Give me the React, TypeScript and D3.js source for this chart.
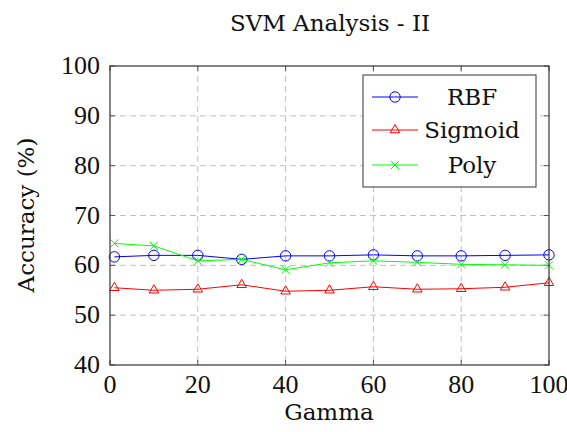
import React from "react";
import * as d3 from "d3";

const gammas = [1, 10, 20, 30, 40, 50, 60, 70, 80, 90, 100];
const rbf = [61.7, 62.0, 62.0, 61.2, 61.9, 61.9, 62.1, 61.9, 61.9, 62.0, 62.1];
const sigmoid = [55.5, 55.0, 55.2, 56.1, 54.8, 55.0, 55.7, 55.2, 55.3, 55.6, 56.5];
const poly = [64.4, 63.9, 60.9, 61.2, 59.1, 60.5, 60.9, 60.6, 60.2, 60.1, 60.0];
const xTicks = [0, 20, 40, 60, 80, 100];
const yTicks = [40, 50, 60, 70, 80, 90, 100];
const seriesNames = ["RBF", "Sigmoid", "Poly"];
const seriesColors = ["#0000ff", "#ff0000", "#00ff00"];

const WORD_FONT = "'DejaVu Serif', serif";
const NUM_FONT = "'Liberation Serif', serif";

function Marker({ kind, x, y, color }: { kind: number; x: number; y: number; color: string }) {
  if (kind === 0) return <circle cx={x} cy={y} r={5.2} fill="none" stroke={color} strokeWidth={1} />;
  if (kind === 1) {
    const r = 5.5;
    const pts = [
      [x, y - r],
      [x + r * 0.866, y + r * 0.5],
      [x - r * 0.866, y + r * 0.5],
    ];
    return <polygon points={pts.map((p) => p.join(",")).join(" ")} fill="none" stroke={color} strokeWidth={1} />;
  }
  const s = 4;
  return (
    <g stroke={color} strokeWidth={1}>
      <line x1={x - s} y1={y - s} x2={x + s} y2={y + s} />
      <line x1={x - s} y1={y + s} x2={x + s} y2={y - s} />
    </g>
  );
}

export default function App() {
  const W = 567, H = 432;
  const left = 110, right = 549, top = 66, bottom = 365;
  const x = d3.scaleLinear().domain([0, 100]).range([left, right]);
  const y = d3.scaleLinear().domain([40, 100]).range([bottom, top]);
  const data = [rbf, sigmoid, poly];
  const line = d3
    .line<number>()
    .x((_, i) => x(gammas[i]))
    .y((d) => y(d));

  const legX = 363, legY = 75, legW = 173, legH = 112;
  const rowY = [97, 130, 165];

  return (
    <svg width={W} height={H} style={{ position: "absolute", left: 0, top: 0 }}>
      <rect width={W} height={H} fill="#fff" />
      <text x={330} y={31} textAnchor="middle" fontSize={23} fill="#111" fontFamily={WORD_FONT}>SVM Analysis - II</text>
      {/* grid */}
      {xTicks.slice(1, -1).map((t) => (
        <line key={"gx" + t} x1={x(t)} x2={x(t)} y1={top} y2={bottom} stroke="#c0c0c0" strokeDasharray="6,4" />
      ))}
      {yTicks.slice(1, -1).map((t) => (
        <line key={"gy" + t} x1={left} x2={right} y1={y(t)} y2={y(t)} stroke="#c0c0c0" strokeDasharray="6,4" />
      ))}
      {/* ticks */}
      {xTicks.map((t) => (
        <g key={"tx" + t} stroke="#555">
          <line x1={x(t)} x2={x(t)} y1={bottom} y2={bottom - 5} />
          <line x1={x(t)} x2={x(t)} y1={top} y2={top + 5} />
        </g>
      ))}
      {yTicks.map((t) => (
        <g key={"ty" + t} stroke="#555">
          <line x1={left} x2={left + 5} y1={y(t)} y2={y(t)} />
          <line x1={right} x2={right - 5} y1={y(t)} y2={y(t)} />
        </g>
      ))}
      {/* series */}
      {data.map((d, si) => (
        <g key={si}>
          <path d={line(d) || ""} fill="none" stroke={seriesColors[si]} strokeWidth={1} />
          {d.map((v, i) => (
            <Marker key={i} kind={si} x={x(gammas[i])} y={y(v)} color={seriesColors[si]} />
          ))}
        </g>
      ))}
      <rect x={left} y={top} width={right - left} height={bottom - top} fill="none" stroke="#333" strokeWidth={1.2} />
      {/* tick labels */}
      {xTicks.map((t) => (
        <text key={"lx" + t} x={x(t)} y={bottom + 28} textAnchor="middle" fontSize={26} fill="#111" fontFamily={NUM_FONT}>{t}</text>
      ))}
      {yTicks.map((t) => (
        <text key={"ly" + t} x={left - 10} y={y(t) + 8} textAnchor="end" fontSize={26} fill="#111" fontFamily={NUM_FONT}>{t}</text>
      ))}
      <text x={329} y={420} textAnchor="middle" fontSize={23} fill="#111" fontFamily={WORD_FONT}>Gamma</text>
      <text transform={`translate(34,215) rotate(-90)`} textAnchor="middle" fontSize={23} fill="#111" fontFamily={WORD_FONT}>Accuracy (%)</text>
      {/* legend */}
      <rect x={legX} y={legY} width={legW} height={legH} fill="#fff" stroke="#333" strokeWidth={1} />
      {seriesNames.map((n, i) => (
        <g key={n}>
          <line x1={372} x2={418} y1={rowY[i]} y2={rowY[i]} stroke={seriesColors[i]} strokeWidth={1} />
          <Marker kind={i} x={395} y={rowY[i]} color={seriesColors[i]} />
          <text x={472} y={rowY[i] + 8} textAnchor="middle" fontSize={23} fill="#111" fontFamily={WORD_FONT}>{n}</text>
        </g>
      ))}
    </svg>
  );
}
